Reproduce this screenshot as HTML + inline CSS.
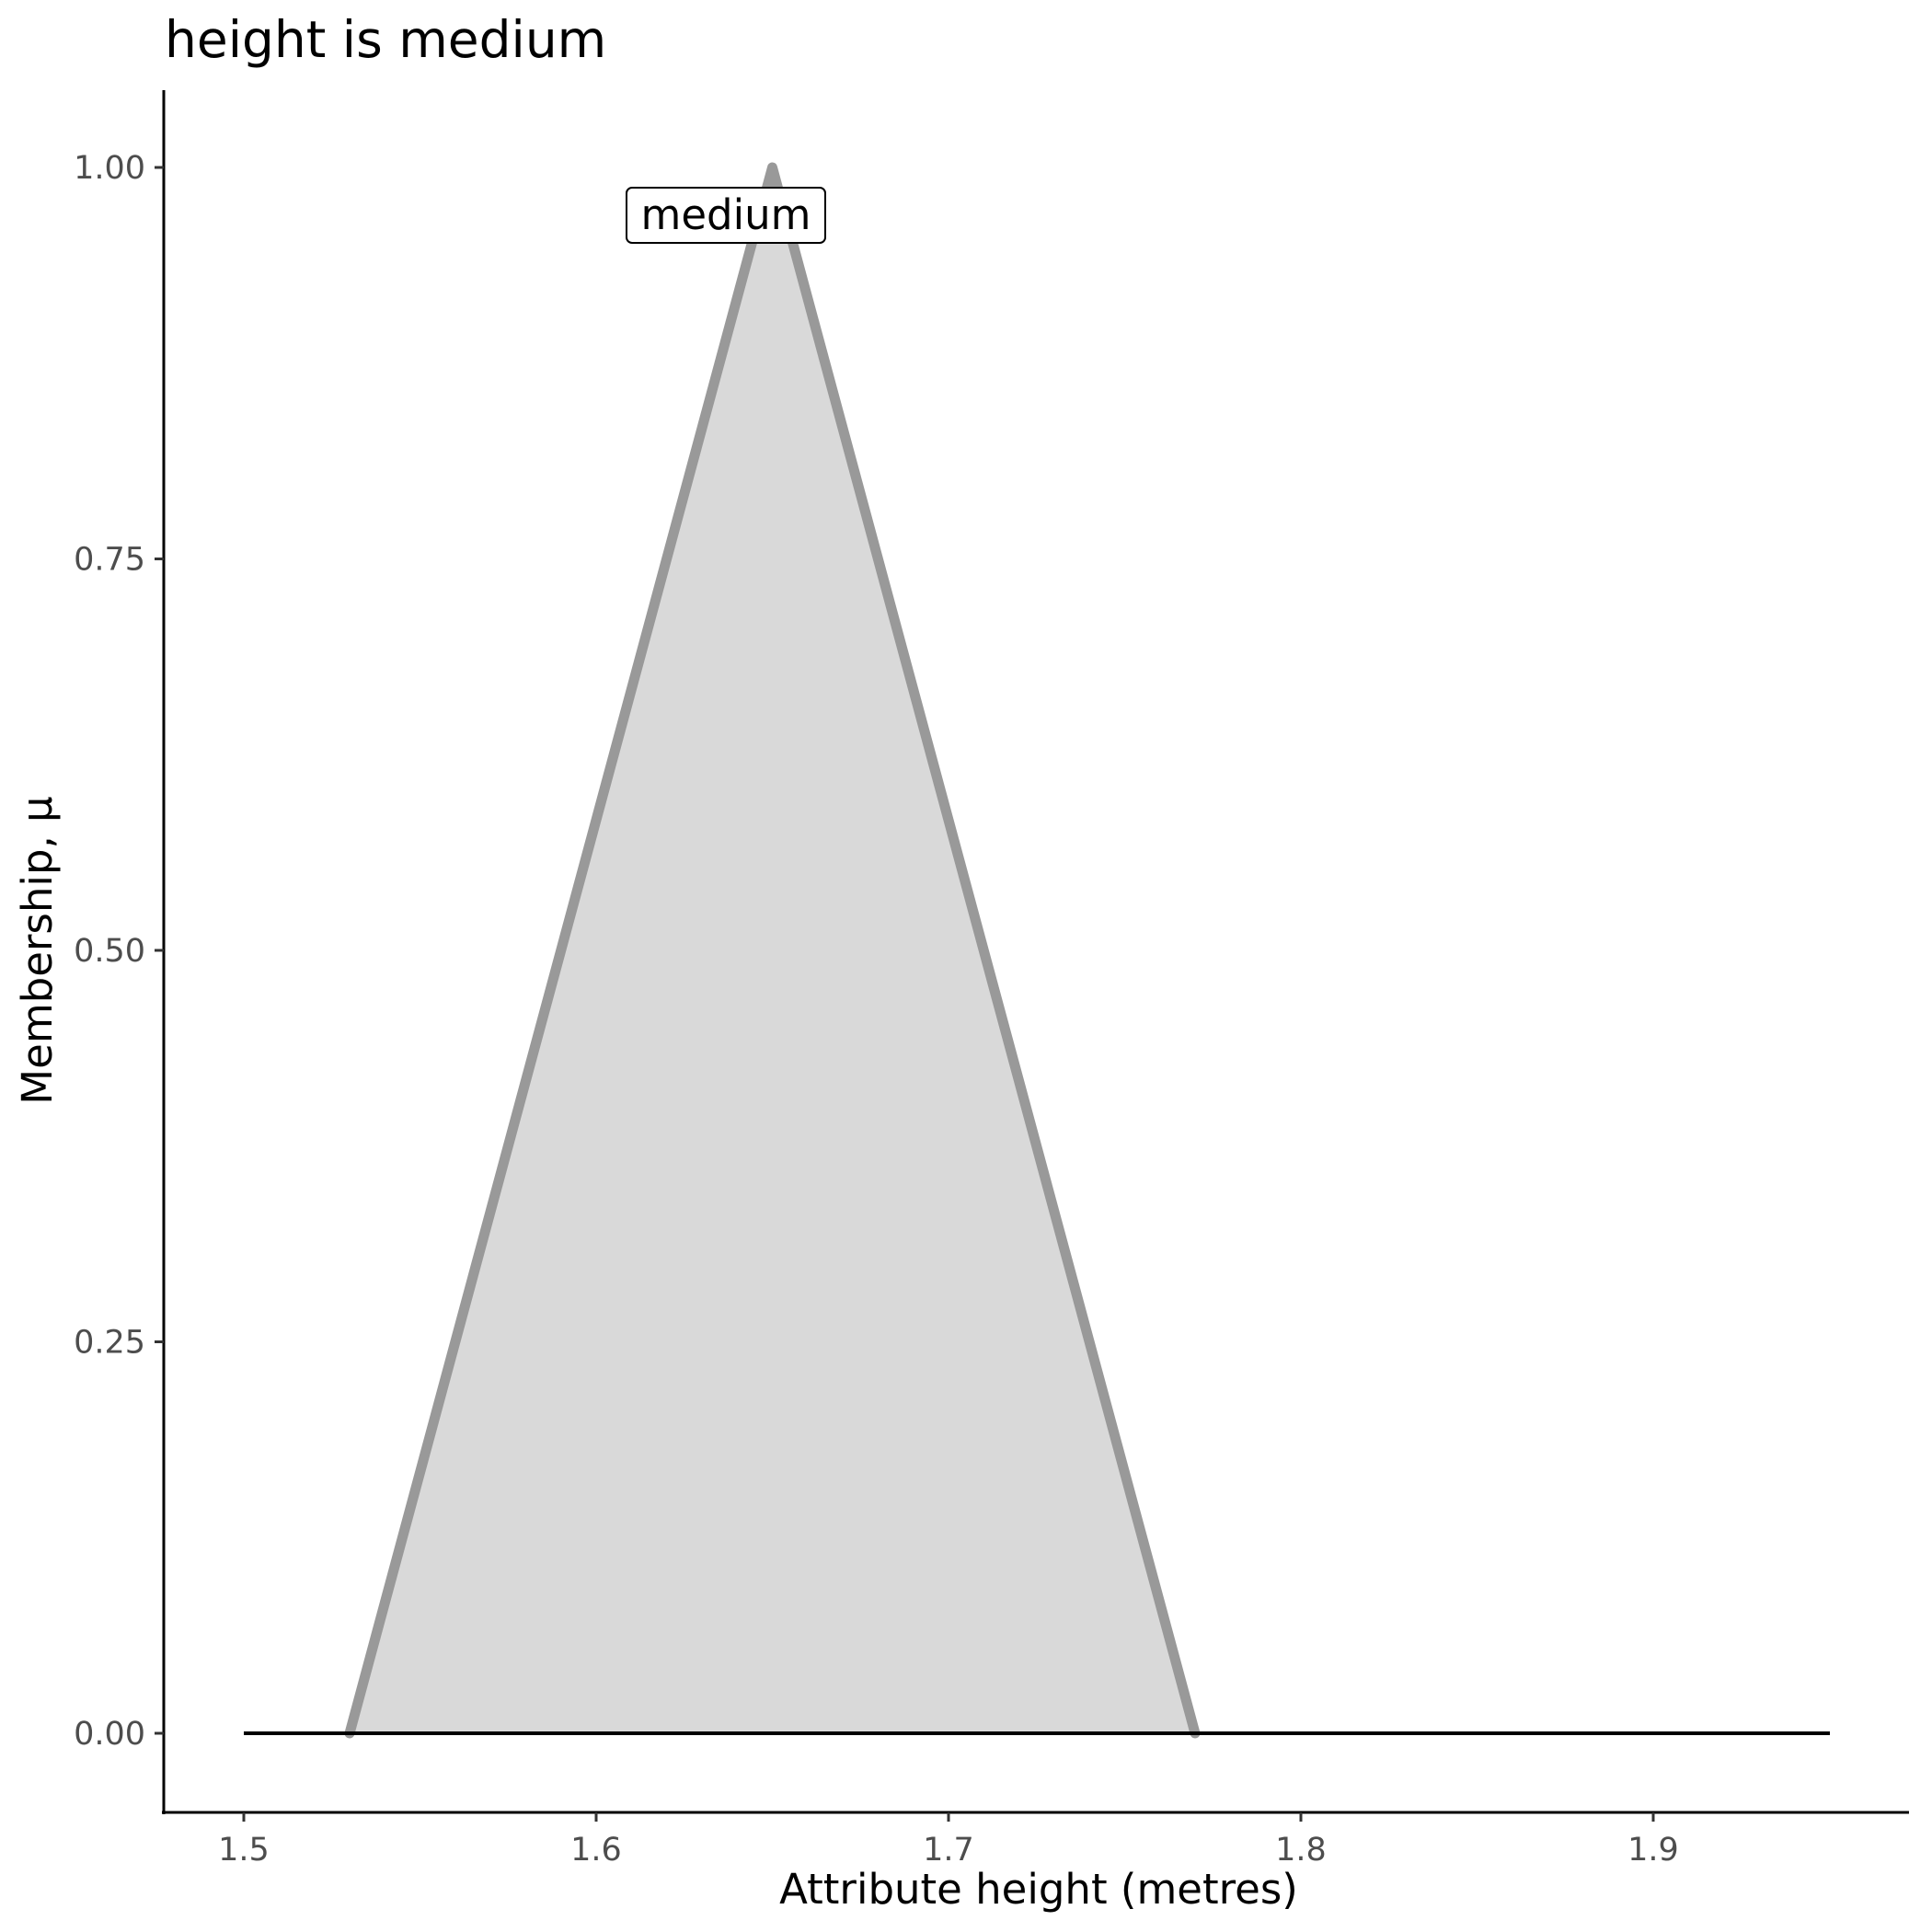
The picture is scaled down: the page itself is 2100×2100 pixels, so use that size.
<!DOCTYPE html>
<html><head><style>body{margin:0;background:#fff}svg{display:block}</style></head><body>
<svg width="2100" height="2100" viewBox="0 0 2100 2100" xmlns="http://www.w3.org/2000/svg" font-family="DejaVu Sans, Liberation Sans, sans-serif">
<rect width="2100" height="2100" fill="#fff"/>
<text x="179" y="62" font-size="55" fill="#000">height is medium</text>
<polygon points="380,1884 839.5,182 1299,1884" fill="#d9d9d9"/>
<polyline points="380,1884 839.5,182 1299,1884" fill="none" stroke="#999" stroke-width="11" stroke-linejoin="round" stroke-linecap="round"/>
<line x1="265" y1="1884" x2="1989" y2="1884" stroke="#000" stroke-width="4"/>
<rect x="681" y="204" width="216" height="60" rx="6" fill="#fff" stroke="#000" stroke-width="2"/>
<text x="789" y="249" font-size="45" text-anchor="middle" fill="#000">medium</text>
<line x1="178" y1="98" x2="178" y2="1972" stroke="#000" stroke-width="3"/>
<line x1="176" y1="1970" x2="2075" y2="1970" stroke="#000" stroke-width="3"/>
<g stroke="#333" stroke-width="3">
<line x1="168" y1="1884" x2="178" y2="1884"/><line x1="168" y1="1458.5" x2="178" y2="1458.5"/><line x1="168" y1="1033" x2="178" y2="1033"/><line x1="168" y1="607.5" x2="178" y2="607.5"/><line x1="168" y1="182" x2="178" y2="182"/>
<line x1="265" y1="1970" x2="265" y2="1980"/><line x1="648" y1="1970" x2="648" y2="1980"/><line x1="1031" y1="1970" x2="1031" y2="1980"/><line x1="1414" y1="1970" x2="1414" y2="1980"/><line x1="1797" y1="1970" x2="1797" y2="1980"/>
</g>
<g font-size="35" fill="#4d4d4d" text-anchor="end">
<text x="158" y="1896">0.00</text><text x="158" y="1470.5">0.25</text><text x="158" y="1045">0.50</text><text x="158" y="619.5">0.75</text><text x="158" y="194">1.00</text>
</g>
<g font-size="35" fill="#4d4d4d" text-anchor="middle">
<text x="265" y="2022">1.5</text><text x="648" y="2022">1.6</text><text x="1031" y="2022">1.7</text><text x="1414" y="2022">1.8</text><text x="1797" y="2022">1.9</text>
</g>
<text x="1129" y="2069" font-size="45" text-anchor="middle" fill="#000">Attribute height (metres)</text>
<text transform="translate(56,1033) rotate(-90)" font-size="45" text-anchor="middle" fill="#000">Membership, μ</text>
</svg>
</body></html>
